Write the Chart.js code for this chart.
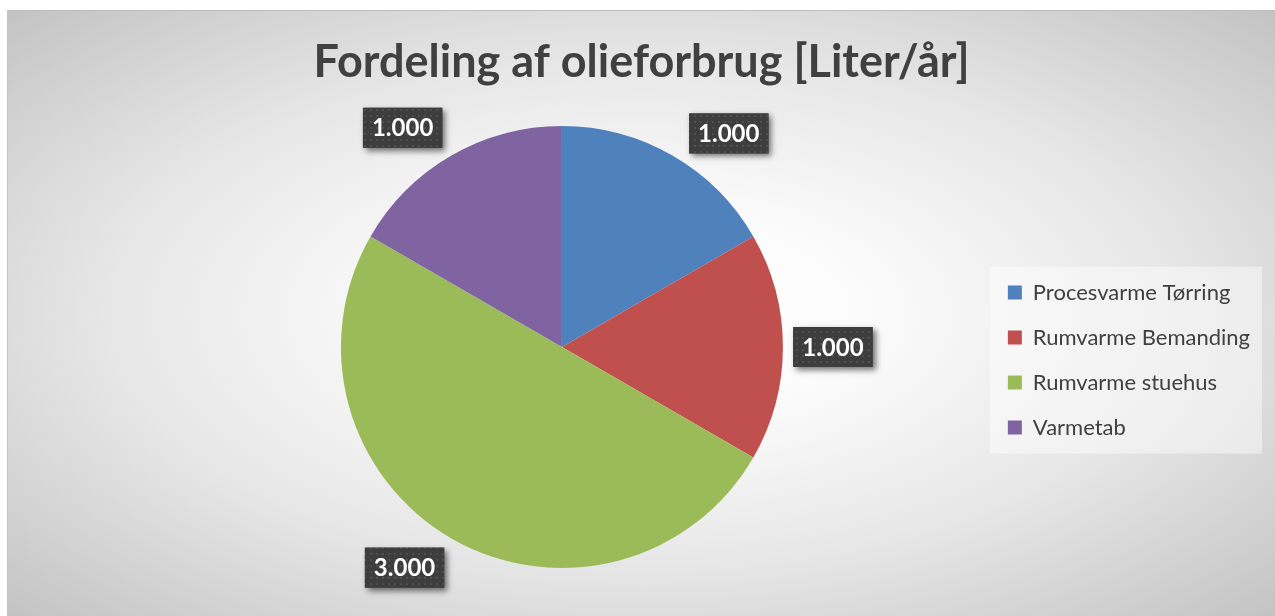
<!DOCTYPE html>
<html lang="da">
<head>
<meta charset="UTF-8">
<title>Fordeling af olieforbrug</title>
<style>
  html, body { margin: 0; padding: 0; background: #fff; overflow: hidden; }
  #frame {
    position: absolute; left: 7px; top: 10px; width: 1268px; height: 606px;
    border-top: 1px solid #bdbdbd; border-left: 1px solid #c4c4c4;
    background: radial-gradient(ellipse farthest-corner at 50% 50%, #ffffff 0%, #fbfbfb 25%, #e6e6e6 60%, #c3c3c3 100%);
  }
</style>
<script src="https://cdn.jsdelivr.net/npm/chart.js"></script>
</head>
<body>
<div id="frame"><canvas id="pie" width="1267" height="605"></canvas></div>
<script>
const categories = ['Procesvarme Tørring', 'Rumvarme Bemanding', 'Rumvarme stuehus', 'Varmetab'];
const values = [1000, 1000, 3000, 1000];
const colors = ['#4F81BD', '#C0504D', '#9BBB59', '#8064A2'];
const titleText = 'Fordeling af olieforbrug [Liter/år]';

// Excel moved the labels a bit away from the slice middles (degrees, clockwise)
const labelNudge = [8, 0, 5.5, -6];

function fmt(v) {
    return String(v).replace(/\B(?=(\d{3})+(?!\d))/g, '.');
}

// dotted fill for the label boxes
function dotPattern(ctx) {
    const c = document.createElement('canvas');
    c.width = 6; c.height = 6;
    const g = c.getContext('2d');
    g.fillStyle = '#3d3d3d';
    g.fillRect(0, 0, 6, 6);
    g.fillStyle = '#505050';
    g.fillRect(2, 2, 2, 2);
    return ctx.createPattern(c, 'repeat');
}

// empty box on the left so the pie sits where Excel put it, title stays centred
const leftSpacer = {
    id: 'leftSpacer',
    beforeInit(chart) {
        Chart.layouts.addBox(chart, {
            position: 'left', weight: 0, fullSize: false, options: {},
            update(maxW, maxH) { this.width = 116; this.height = maxH; },
            getPadding() { return {left: 0, right: 0, top: 0, bottom: 0}; },
            isHorizontal() { return false; },
            draw() {}
        });
    }
};

const legendBg = {
    id: 'legendBg',
    beforeDraw(chart) {
        const boxes = chart.legend && chart.legend.legendHitBoxes;
        if (!boxes || !boxes.length) return;
        const l = Math.min(...boxes.map(b => b.left)) - 18;
        const r = Math.max(...boxes.map(b => b.left + b.width)) + 12;
        const t = Math.min(...boxes.map(b => b.top)) - 15;
        const btm = Math.max(...boxes.map(b => b.top + b.height)) + 15;
        const ctx = chart.ctx;
        ctx.save();
        ctx.fillStyle = 'rgba(255,255,255,0.45)';
        ctx.fillRect(l, t, r - l, btm - t);
        ctx.restore();
    }
};

const valueLabels = {
    id: 'valueLabels',
    afterDatasetsDraw(chart) {
        const ctx = chart.ctx;
        const meta = chart.getDatasetMeta(0);
        const pat = dotPattern(ctx);
        meta.data.forEach((arc, i) => {
            const p = arc.getProps(['x', 'y', 'startAngle', 'endAngle', 'outerRadius'], true);
            const mid = (p.startAngle + p.endAngle) / 2 + labelNudge[i] * Math.PI / 180;
            const dist = p.outerRadius + 50;
            const cx = p.x + Math.cos(mid) * dist;
            const cy = p.y + Math.sin(mid) * dist;
            const text = fmt(values[i]);
            ctx.save();
            ctx.font = 'bold 24px Lato';
            const w = ctx.measureText(text).width + 18;
            const h = 40;
            ctx.shadowColor = 'rgba(0,0,0,0.55)';
            ctx.shadowBlur = 6;
            ctx.shadowOffsetX = 3;
            ctx.shadowOffsetY = 3;
            ctx.fillStyle = '#3d3d3d';
            ctx.fillRect(cx - w / 2, cy - h / 2, w, h);
            ctx.shadowColor = 'transparent';
            ctx.fillStyle = pat;
            ctx.fillRect(cx - w / 2, cy - h / 2, w, h);
            ctx.fillStyle = '#ffffff';
            ctx.textAlign = 'center';
            ctx.textBaseline = 'middle';
            ctx.fillText(text, cx, cy + 1);
            ctx.restore();
        });
    }
};

const ctx = document.getElementById('pie').getContext('2d');
const chart = new Chart(ctx, {
    type: 'pie',
    data: {
        labels: categories,
        datasets: [{
            data: values,
            backgroundColor: colors,
            borderWidth: 0
        }]
    },
    options: {
        responsive: false,
        animation: false,
        layout: { padding: { top: 0, bottom: 48, left: 15, right: 15 } },
        plugins: {
            title: {
                display: true,
                text: titleText,
                color: '#404040',
                font: { family: 'Lato', size: 45, weight: 'bold', lineHeight: 1.2 },
                padding: { top: 24, bottom: 37 }
            },
            legend: {
                position: 'right',
                fullSize: false,
                title: { display: true, text: '', font: { size: 1 }, padding: { top: 25, bottom: 0 } },
                labels: {
                    boxWidth: 14,
                    boxHeight: 14,
                    padding: 23,
                    color: '#404040',
                    font: { family: 'Lato', size: 22 }
                }
            },
            tooltip: { enabled: false }
        }
    },
    plugins: [leftSpacer, legendBg, valueLabels]
});
</script>
</body>
</html>
